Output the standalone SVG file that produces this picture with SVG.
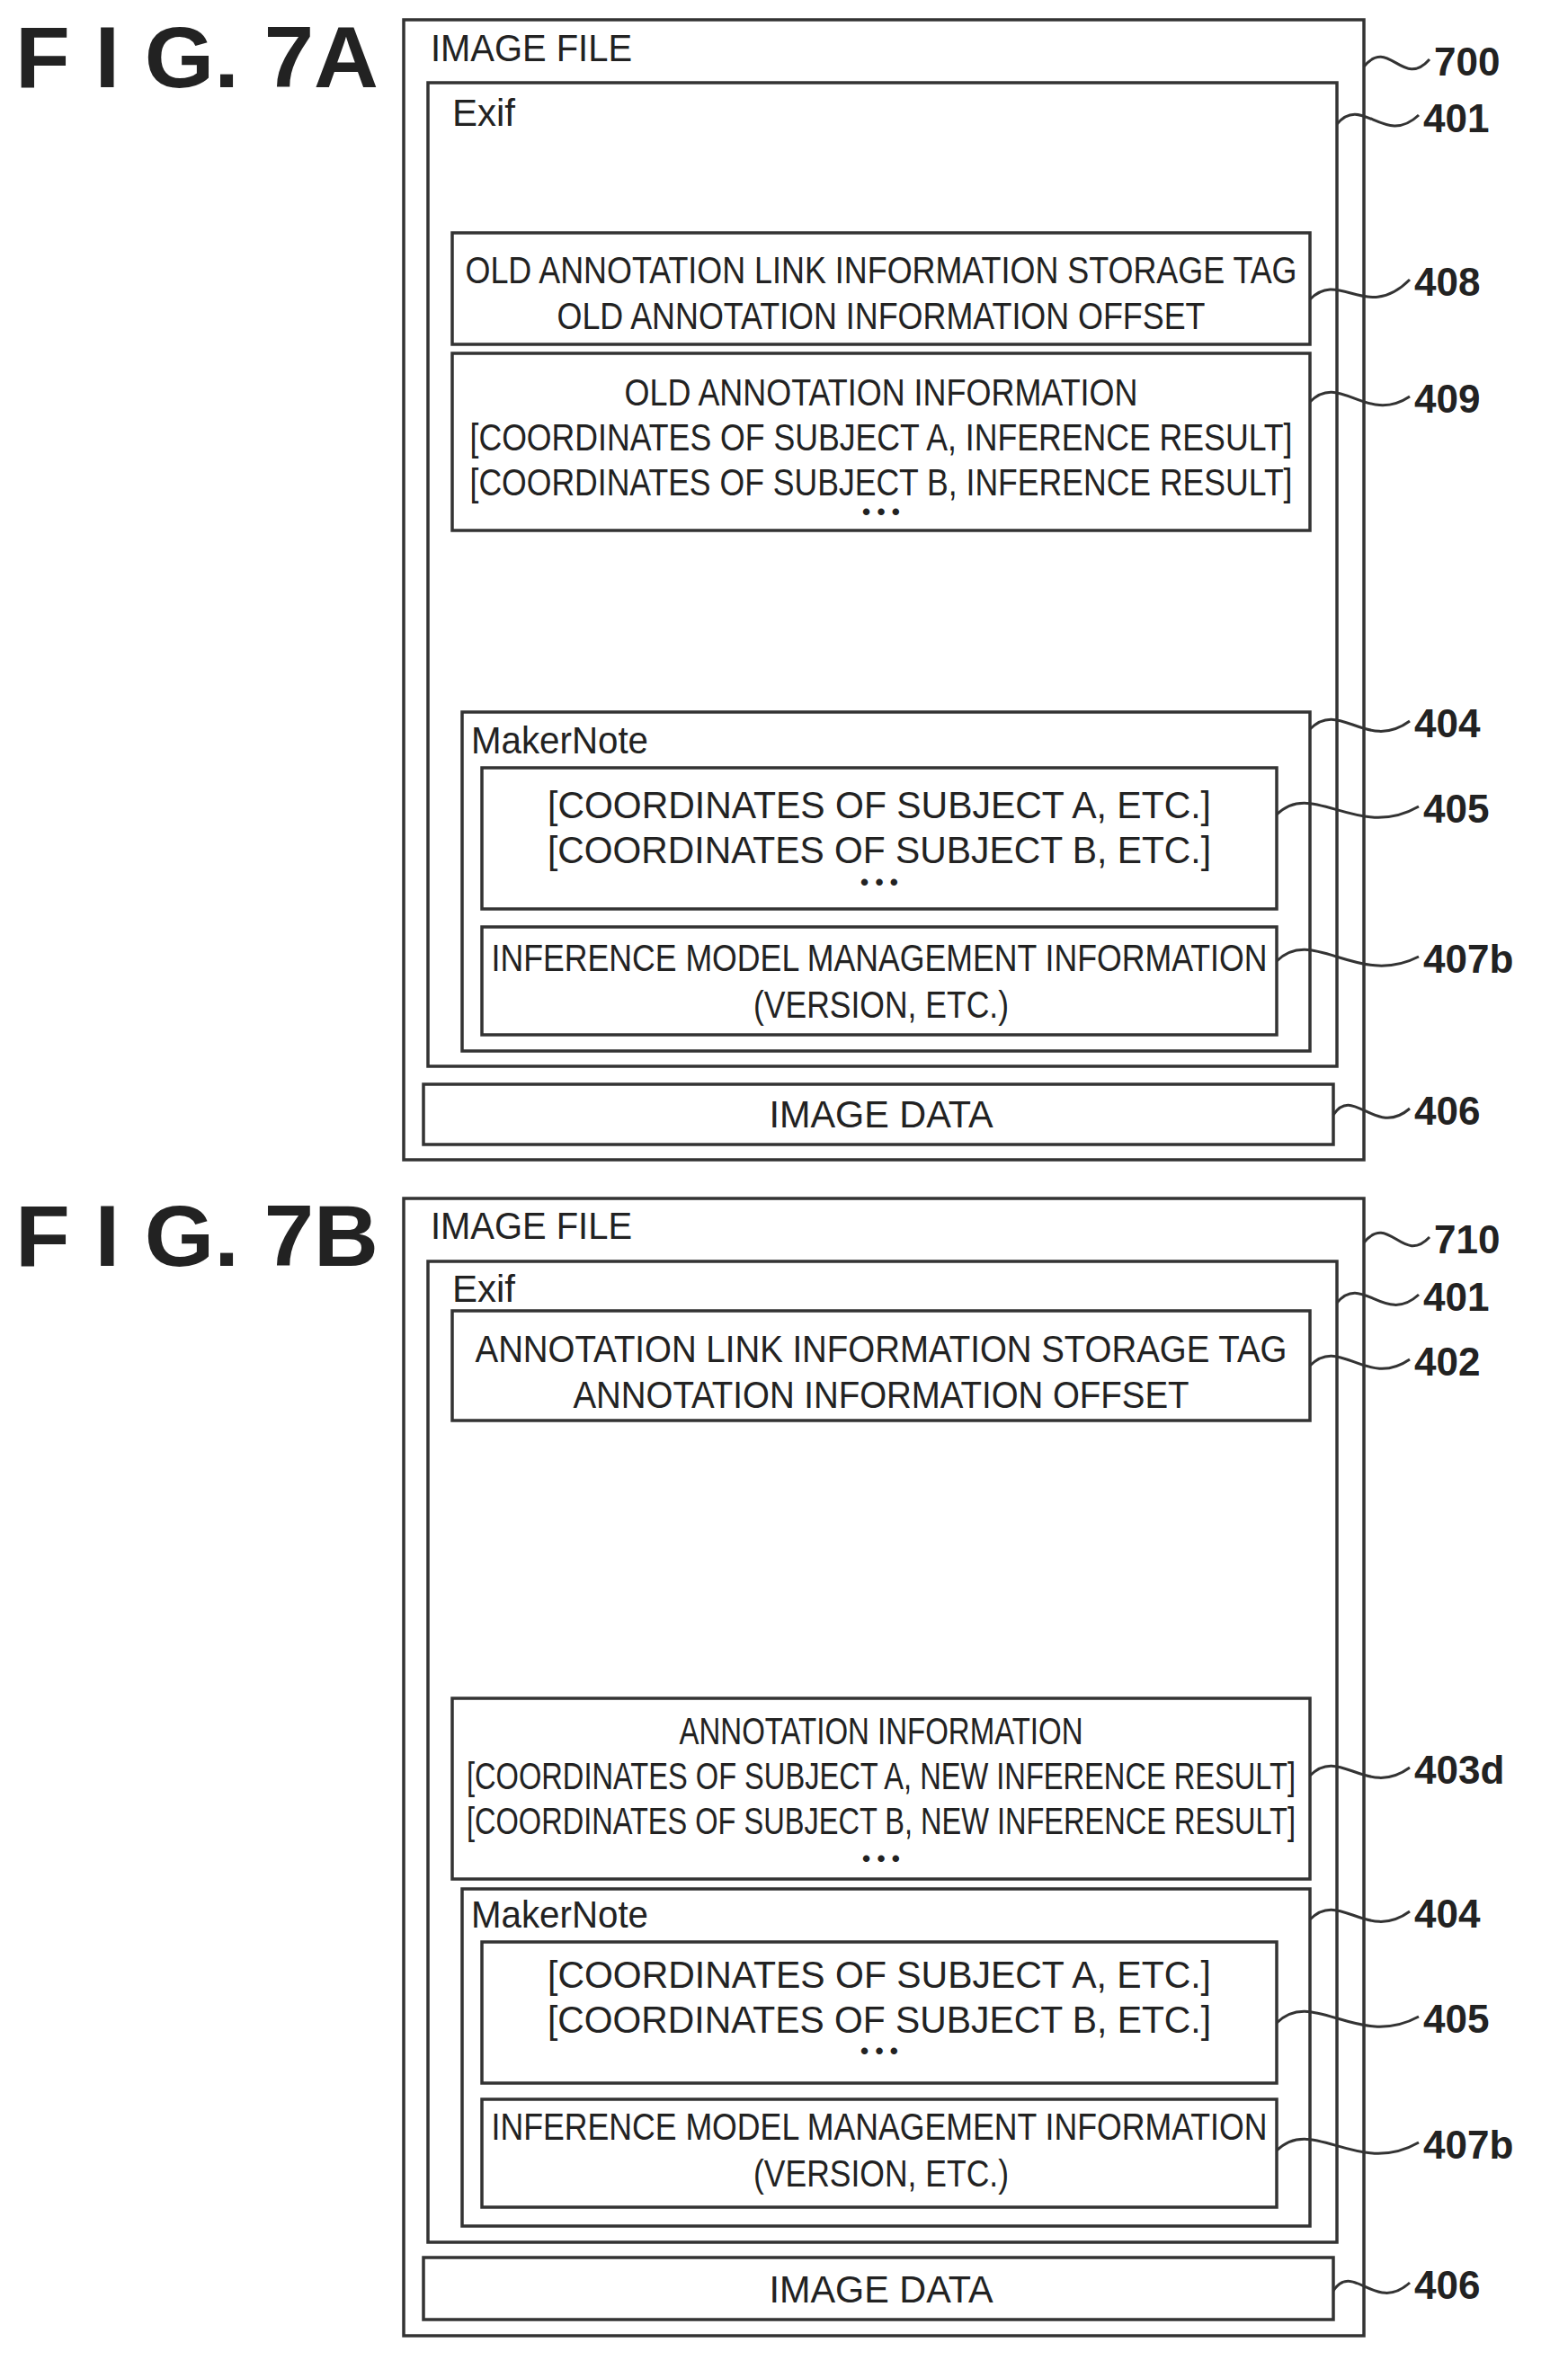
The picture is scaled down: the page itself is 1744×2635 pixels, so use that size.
<svg xmlns="http://www.w3.org/2000/svg" width="1744" height="2635" viewBox="0 0 1744 2635">
<style>
rect{fill:none;stroke:#333;stroke-width:3.5}
text{font-family:"Liberation Sans",Arial,sans-serif;fill:#222}
.t{font-size:42px;text-anchor:middle}
.l{font-size:42px}
.d{font-size:26px;text-anchor:middle;font-weight:bold}
.n{font-size:44px;font-weight:bold}
.f{font-size:96px;font-weight:bold}
.c path{fill:none;stroke:#333;stroke-width:3}
</style>
<rect width="1744" height="2635" style="fill:#fff;stroke:none"/>
<text class="f" x="17" y="97" textLength="404" lengthAdjust="spacingAndGlyphs">F I G. 7A</text>
<text class="f" x="17" y="1408" textLength="404" lengthAdjust="spacingAndGlyphs">F I G. 7B</text>

<g id="file700"><rect x="449" y="22" width="1068" height="1268"/><text class="l" x="479" y="68" textLength="224" lengthAdjust="spacingAndGlyphs">IMAGE FILE</text></g>
<g id="exifA"><rect x="476" y="92" width="1011" height="1094"/><text class="l" x="503" y="140" textLength="70" lengthAdjust="spacingAndGlyphs">Exif</text></g>
<g id="n408"><rect x="503" y="259" width="954" height="124"/>
<text class="t" x="980" y="315" textLength="925" lengthAdjust="spacingAndGlyphs">OLD ANNOTATION LINK INFORMATION STORAGE TAG</text>
<text class="t" x="980" y="366" textLength="721" lengthAdjust="spacingAndGlyphs">OLD ANNOTATION INFORMATION OFFSET</text></g>
<g id="n409"><rect x="503" y="393" width="954" height="197"/>
<text class="t" x="980" y="451" textLength="571" lengthAdjust="spacingAndGlyphs">OLD ANNOTATION INFORMATION</text>
<text class="t" x="980" y="501" textLength="915" lengthAdjust="spacingAndGlyphs">[COORDINATES OF SUBJECT A, INFERENCE RESULT]</text>
<text class="t" x="980" y="551" textLength="915" lengthAdjust="spacingAndGlyphs">[COORDINATES OF SUBJECT B, INFERENCE RESULT]</text>
<text class="d" x="980" y="578">• • •</text></g>
<g id="n404A"><rect x="514" y="792" width="943" height="377"/><text class="l" x="524" y="838" textLength="197" lengthAdjust="spacingAndGlyphs">MakerNote</text></g>
<g id="n405A"><rect x="536" y="854" width="884" height="157"/>
<text class="t" x="978" y="910" textLength="738" lengthAdjust="spacingAndGlyphs">[COORDINATES OF SUBJECT A, ETC.]</text>
<text class="t" x="978" y="960" textLength="738" lengthAdjust="spacingAndGlyphs">[COORDINATES OF SUBJECT B, ETC.]</text>
<text class="d" x="978" y="990">• • •</text></g>
<g id="n407bA"><rect x="536" y="1031" width="884" height="120"/>
<text class="t" x="978" y="1080" textLength="863" lengthAdjust="spacingAndGlyphs">INFERENCE MODEL MANAGEMENT INFORMATION</text>
<text class="t" x="980" y="1132" textLength="284" lengthAdjust="spacingAndGlyphs">(VERSION, ETC.)</text></g>
<g id="n406A"><rect x="471" y="1206" width="1012" height="67"/><text class="t" x="980" y="1254" textLength="249" lengthAdjust="spacingAndGlyphs">IMAGE DATA</text></g>

<g id="file710"><rect x="449" y="1333" width="1068" height="1265"/><text class="l" x="479" y="1378" textLength="224" lengthAdjust="spacingAndGlyphs">IMAGE FILE</text></g>
<g id="exifB"><rect x="476" y="1403" width="1011" height="1091"/><text class="l" x="503" y="1448" textLength="70" lengthAdjust="spacingAndGlyphs">Exif</text></g>
<g id="n402"><rect x="503" y="1458" width="954" height="122"/>
<text class="t" x="980" y="1515" textLength="903" lengthAdjust="spacingAndGlyphs">ANNOTATION LINK INFORMATION STORAGE TAG</text>
<text class="t" x="980" y="1566" textLength="685" lengthAdjust="spacingAndGlyphs">ANNOTATION INFORMATION OFFSET</text></g>
<g id="n403d"><rect x="503" y="1889" width="954" height="201"/>
<text class="t" x="980" y="1940" textLength="449" lengthAdjust="spacingAndGlyphs">ANNOTATION INFORMATION</text>
<text class="t" x="980" y="1990" textLength="922" lengthAdjust="spacingAndGlyphs">[COORDINATES OF SUBJECT A, NEW INFERENCE RESULT]</text>
<text class="t" x="980" y="2040" textLength="922" lengthAdjust="spacingAndGlyphs">[COORDINATES OF SUBJECT B, NEW INFERENCE RESULT]</text>
<text class="d" x="980" y="2076">• • •</text></g>
<g id="n404B"><rect x="514" y="2101" width="943" height="375"/><text class="l" x="524" y="2144" textLength="197" lengthAdjust="spacingAndGlyphs">MakerNote</text></g>
<g id="n405B"><rect x="536" y="2160" width="884" height="157"/>
<text class="t" x="978" y="2211" textLength="738" lengthAdjust="spacingAndGlyphs">[COORDINATES OF SUBJECT A, ETC.]</text>
<text class="t" x="978" y="2261" textLength="738" lengthAdjust="spacingAndGlyphs">[COORDINATES OF SUBJECT B, ETC.]</text>
<text class="d" x="978" y="2290">• • •</text></g>
<g id="n407bB"><rect x="536" y="2335" width="884" height="120"/>
<text class="t" x="978" y="2380" textLength="863" lengthAdjust="spacingAndGlyphs">INFERENCE MODEL MANAGEMENT INFORMATION</text>
<text class="t" x="980" y="2432" textLength="284" lengthAdjust="spacingAndGlyphs">(VERSION, ETC.)</text></g>
<g id="n406B"><rect x="471" y="2511" width="1012" height="69"/><text class="t" x="980" y="2561" textLength="249" lengthAdjust="spacingAndGlyphs">IMAGE DATA</text></g>

<g id="connectors" class="c">
<path d="M1517 74 C1545 40 1560 100 1590 66"/>
<path d="M1487 138 C1515 104 1540 164 1578 128"/>
<path d="M1457 333 C1490 299 1520 359 1568 311"/>
<path d="M1457 447 C1490 413 1520 473 1568 441"/>
<path d="M1457 811 C1490 777 1520 837 1568 802"/>
<path d="M1420 906 C1460 866 1510 936 1578 897"/>
<path d="M1420 1069 C1460 1029 1510 1099 1578 1064"/>
<path d="M1483 1240 C1505 1206 1530 1266 1568 1233"/>
<path d="M1517 1382 C1545 1348 1560 1408 1590 1376"/>
<path d="M1487 1449 C1515 1415 1540 1475 1578 1440"/>
<path d="M1457 1519 C1490 1485 1520 1545 1568 1512"/>
<path d="M1457 1975 C1490 1941 1520 2001 1568 1966"/>
<path d="M1457 2135 C1490 2101 1520 2161 1568 2126"/>
<path d="M1420 2250 C1460 2210 1510 2280 1578 2243"/>
<path d="M1420 2392 C1460 2352 1510 2422 1578 2383"/>
<path d="M1483 2548 C1505 2514 1530 2574 1568 2539"/>
</g>
<g id="labels">
<text class="n" x="1595" y="84">700</text>
<text class="n" x="1583" y="147">401</text>
<text class="n" x="1573" y="329">408</text>
<text class="n" x="1573" y="459">409</text>
<text class="n" x="1573" y="820">404</text>
<text class="n" x="1583" y="915">405</text>
<text class="n" x="1583" y="1082">407b</text>
<text class="n" x="1573" y="1251">406</text>
<text class="n" x="1595" y="1394">710</text>
<text class="n" x="1583" y="1458">401</text>
<text class="n" x="1573" y="1530">402</text>
<text class="n" x="1573" y="1984">403d</text>
<text class="n" x="1573" y="2144">404</text>
<text class="n" x="1583" y="2261">405</text>
<text class="n" x="1583" y="2401">407b</text>
<text class="n" x="1573" y="2557">406</text>
</g>
</svg>
